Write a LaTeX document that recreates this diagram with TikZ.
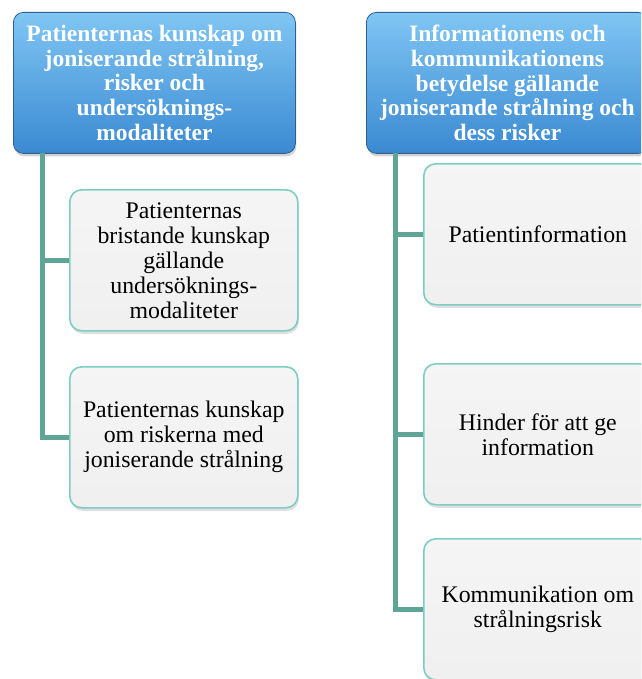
\documentclass[tikz,border=0pt]{standalone}
\usepackage{fontspec}
\setmainfont{Liberation Serif}
\usetikzlibrary{shadows}
\definecolor{hdtop}{HTML}{80C6F4}
\definecolor{hdbot}{HTML}{3A89D2}
\definecolor{hdline}{HTML}{2F5F8F}
\definecolor{chline}{HTML}{7CCFC0}
\definecolor{conncol}{HTML}{5FA596}
\tikzset{
  hdbox/.style={draw=hdline, line width=0.8pt, rounded corners=10pt, top color=hdtop, bottom color=hdbot,
    minimum width=282pt, minimum height=141pt, anchor=north west, align=center, inner sep=1pt,
    text=white, font=\fontsize{23.5}{24.8}\selectfont\bfseries,
    drop shadow={opacity=0.35, shadow xshift=1pt, shadow yshift=-3pt}},
  chbox/.style={draw=chline, line width=1.6pt, rounded corners=12pt, top color=white!96!black, bottom color=white!94!black,
    minimum width=228pt, minimum height=141pt, anchor=north west, align=center, inner sep=1pt,
    text=black, font=\fontsize{23.8}{25}\selectfont,
    drop shadow={opacity=0.25, shadow xshift=1pt, shadow yshift=-3pt}},
  conn/.style={draw=conncol, line width=5pt}
}
\begin{document}
\begin{tikzpicture}[x=1pt,y=-1pt]
\useasboundingbox (0,0) rectangle (641,679);
\clip (0,0) rectangle (641,679);
% left branch
\node[hdbox] (lh) at (13,12) {Patienternas kunskap om\\joniserande strålning,\\risker och\\undersöknings-\\modaliteter};
\coordinate (lt) at (42,153);
\node[chbox] (lc1) at (69,189) {Patienternas\\bristande kunskap\\gällande\\undersöknings-\\modaliteter};
\node[chbox] (lc2) at (69,366) {Patienternas kunskap\\om riskerna med\\joniserande strålning};
% right branch
\node[hdbox] (rh) at (366,12) {Informationens och\\kommunikationens\\betydelse gällande\\joniserande strålning och\\dess risker};
\coordinate (rt) at (395,153);
\node[chbox] (rc1) at (423,163) {Patientinformation};
\node[chbox] (rc2) at (423,363) {Hinder för att ge\\information};
\node[chbox] (rc3) at (423,538) {Kommunikation om\\strålningsrisk};
% connectors
\draw[conn] (lt) |- (lc2.west);
\draw[conn] (lc1.west) -- (lc1.west -| lt);
\draw[conn] (rt) |- (rc3.west);
\draw[conn] (rc1.west) -- (rc1.west -| rt);
\draw[conn] (rc2.west) -- (rc2.west -| rt);
\end{tikzpicture}
\end{document}
